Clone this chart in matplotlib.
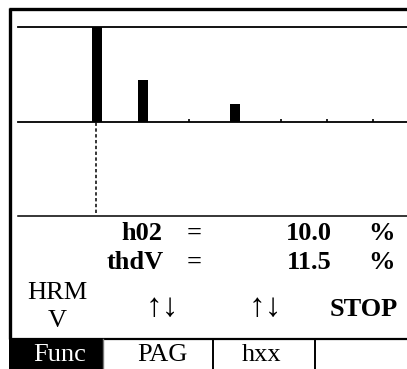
import matplotlib
matplotlib.use("Agg")
import matplotlib.pyplot as plt
from matplotlib.patches import Rectangle

# ---- data ----
bar_orders = [1, 2, 4]          # harmonic orders with a visible bar
bar_levels = [100, 44, 19]      # bar heights, % of full scale
tick_orders = [1, 2, 3, 4, 5, 6, 7]
cursor_order = 1
reading_names = ["h02", "thdV"]
reading_values = ["10.0", "11.5"]
reading_units = ["%", "%"]
softkeys = ["HRM\nV", "↑↓", "↑↓", "STOP"]
softkey_bold = [False, False, False, True]
funckeys = ["Func", "PAG", "hxx", ""]

W, H = 407, 369
FONT = ["Liberation Serif", "DejaVu Serif"]
FS = 19

fig = plt.figure(figsize=(W / 100, H / 100), dpi=100)


def frame_rect(x0, y0, x1, y1):
    return [x0 / W, 1 - y1 / H, (x1 - x0) / W, (y1 - y0) / H]


# overlay axes in pixel coordinates
ov = fig.add_axes([0, 0, 1, 1])
ov.set_xlim(0, W)
ov.set_ylim(H, 0)
ov.axis("off")

# harmonic axis: order 1 centred at px 97, spacing 46 px
x0_px, x1_px = 18, 407
xlim = ((x0_px - 97) / 46 + 1, (x1_px - 97) / 46 + 1)

ax = fig.add_axes(frame_rect(x0_px, 27, x1_px, 122))
ax.bar(bar_orders, bar_levels, width=10 / 46, color="black")
ax.set_xlim(*xlim)
ax.set_ylim(0, 100)
for s in ["left", "right"]:
    ax.spines[s].set_visible(False)
ax.spines["top"].set_linewidth(1.3)
ax.spines["bottom"].set_linewidth(1.3)
ax.set_xticks(tick_orders)
ax.set_xticklabels([])
ax.set_yticks([])
ax.tick_params(axis="x", direction="in", length=2.5, width=1.2)
ax.patch.set_alpha(0)

# cursor area
ax2 = fig.add_axes(frame_rect(x0_px, 122, x1_px, 216))
ax2.set_xlim(*xlim)
ax2.set_ylim(0, 1)
ax2.axis("off")
ax2.axvline(cursor_order - 0.02, ymin=0.03, ymax=1, color="black",
            lw=1.1, ls=(0, (2.2, 1.6)))
ov.plot([18, 407], [216, 216], color="black", lw=1.1)

# outer frame
ov.plot([10, 10], [8, 339], color="black", lw=2.4, solid_capstyle="butt")
ov.plot([9, 407], [9, 9], color="black", lw=2.4, solid_capstyle="butt")
ov.plot([9, 407], [338.5, 338.5], color="black", lw=1.6, solid_capstyle="butt")

# readings
for i, (n, v, u) in enumerate(zip(reading_names, reading_values, reading_units)):
    yb = 240 + i * 29
    xn = 121 if i == 0 else 107
    ov.text(xn, yb, n, ha="left", va="baseline", fontsize=FS,
            fontweight="bold", family=FONT)
    ov.text(194, yb, "=", ha="center", va="baseline", fontsize=FS,
            fontweight="bold", family=FONT)
    ov.text(332, yb, v, ha="right", va="baseline", fontsize=FS,
            fontweight="bold", family=FONT)
    ov.text(368, yb, u, ha="left", va="baseline", fontsize=FS,
            fontweight="bold", family=FONT)

# soft keys
sk_x = [57, 162, 265, 364]
for x, lab, b in zip(sk_x, softkeys, softkey_bold):
    w = "bold" if b else "normal"
    if "\n" in lab:
        l1, l2 = lab.split("\n")
        ov.text(x, 299, l1, ha="center", va="baseline", fontsize=FS,
                fontweight=w, family=FONT)
        ov.text(x, 327, l2, ha="center", va="baseline", fontsize=FS,
                fontweight=w, family=FONT)
    elif lab == "STOP":
        ov.text(x, 316, lab, ha="center", va="baseline", fontsize=FS,
                fontweight=w, family=FONT)
    else:
        ov.text(x, 308, lab, ha="center", va="center", fontsize=24,
                fontweight=w, family=FONT)

# function key row
ov.add_patch(Rectangle((9, 339), 94, 31, color="black", lw=0))
fk_x = [60, 162, 262, 360]
for i, (x, lab) in enumerate(zip(fk_x, funckeys)):
    ov.text(x, 361, lab, ha="center", va="baseline", fontsize=FS,
            color="white" if i == 0 else "black", family=FONT)
ov.plot([103, 103], [339, 369], color="#777777", lw=1.0)
for xs in [213, 315]:
    ov.plot([xs, xs], [339, 369], color="black", lw=1.4)

fig.savefig("out.png", dpi=100)
